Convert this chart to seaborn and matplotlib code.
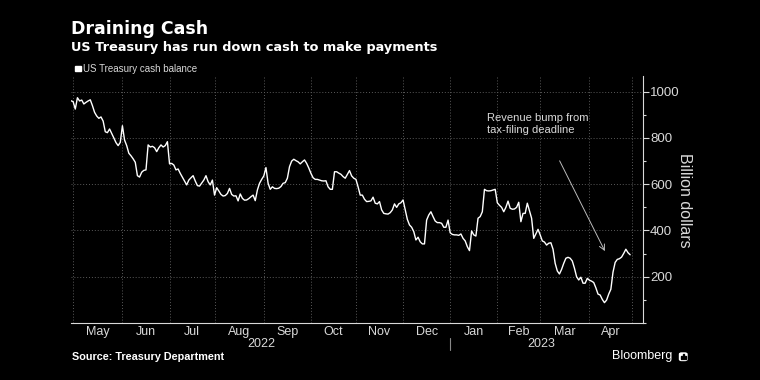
import numpy as np
import pandas as pd
import seaborn as sns
import matplotlib.pyplot as plt
import matplotlib.transforms as mtransforms
from matplotlib.patches import Rectangle, FancyBboxPatch
from matplotlib.ticker import FixedLocator, MultipleLocator, NullFormatter

# daily (weekday) Treasury cash balance, billion dollars
start, end = "2022-04-28", "2023-04-28"
cash = [961, 957, 925, 974, 960, 964, 947, 954, 960, 965,
        940, 911, 895, 885, 891, 873, 827, 823, 839, 820,
        800, 780, 767, 781, 853, 791, 767, 734, 723, 710,
        695, 637, 631, 652, 660, 662, 770, 761, 764, 758,
        741, 758, 770, 761, 767, 784, 688, 690, 683, 662,
        666, 647, 630, 612, 597, 618, 628, 637, 614, 594,
        592, 605, 618, 637, 611, 597, 618, 553, 585, 571,
        556, 549, 551, 560, 582, 556, 549, 550, 528, 558,
        539, 531, 532, 538, 546, 553, 529, 575, 604, 621,
        636, 672, 604, 578, 589, 582, 581, 583, 590, 604,
        607, 626, 676, 700, 708, 702, 697, 688, 697, 705,
        690, 670, 647, 628, 621, 621, 618, 615, 614, 615,
        589, 578, 578, 654, 654, 648, 643, 633, 626, 643,
        659, 636, 626, 621, 589, 553, 553, 535, 525, 526,
        528, 544, 518, 515, 525, 489, 474, 472, 471, 477,
        489, 515, 500, 515, 520, 532, 489, 448, 424, 414,
        395, 359, 371, 351, 342, 342, 445, 467, 481, 460,
        441, 434, 434, 431, 414, 414, 445, 390, 383, 381,
        381, 379, 385, 366, 355, 330, 313, 398, 381, 376,
        453, 460, 481, 578, 572, 571, 572, 575, 578, 520,
        509, 500, 481, 500, 527, 496, 492, 493, 500, 522,
        438, 474, 474, 518, 486, 453, 366, 385, 405, 381,
        355, 350, 337, 345, 347, 319, 258, 225, 212, 232,
        258, 280, 284, 280, 268, 237, 200, 186, 198, 172,
        172, 193, 185, 181, 175, 152, 125, 121, 102, 88,
        99, 125, 146, 220, 262, 275, 278, 285, 301, 319,
        304, 295]
months = ["May", "Jun", "Jul", "Aug", "Sep", "Oct", "Nov", "Dec",
          "Jan", "Feb", "Mar", "Apr"]
years = ["2022", "2023"]
yticks = [200, 400, 600, 800, 1000]

dates = pd.bdate_range(start, end)
month_starts = pd.date_range("2022-05-01", "2023-05-01", freq="MS")
origin = np.datetime64("2022-05-02")
# Bloomberg spaces the axis by trading day, not calendar day
df = pd.DataFrame({"day": np.busday_count(origin, dates.values.astype("datetime64[D]")),
                   "cash": cash})
edges = np.busday_count(origin, month_starts.values.astype("datetime64[D]"))
centers = (edges[:-1] + edges[1:]) / 2

sns.set_style("dark", {"axes.facecolor": "black", "figure.facecolor": "black"})
plt.rcParams["font.family"] = ["Liberation Sans Narrow", "Liberation Sans", "DejaVu Sans"]

fg = "#d9d9d9"
grid = "#5a5a5a"
W, H = 760, 380

fig = plt.figure(figsize=(7.6, 3.8), dpi=100)
ax = fig.add_axes([71 / W, 1 - 323 / H, (643 - 71) / W, (323 - 76) / H])

sns.lineplot(data=df, x="day", y="cash", ax=ax, color="white", lw=1.0)

ax.set_xlim(-2, 265)
ax.set_ylim(0, 1068)

# y axis on the right
ax.yaxis.tick_right()
ax.set_yticks(yticks)
ax.yaxis.set_minor_locator(MultipleLocator(100))
ax.tick_params(axis="y", which="major", colors=fg, labelsize=9.5, length=4,
               width=0.8, pad=1)
ax.tick_params(axis="y", which="minor", colors=fg, length=2.5, width=0.8)
ax.set_ylabel("")
ax.set_xlabel("")

# month gridlines and centered labels
ax.xaxis.set_major_locator(FixedLocator(edges))
ax.xaxis.set_major_formatter(NullFormatter())
ax.xaxis.set_minor_locator(FixedLocator(centers))
ax.xaxis.set_minor_formatter(plt.FixedFormatter(months))
ax.tick_params(axis="x", which="major", colors=fg, length=3, width=0.8)
ax.tick_params(axis="x", which="minor", colors=fg, length=0, labelsize=9, pad=2)

ax.grid(True, which="major", color=grid, linestyle=(0, (1, 2)), linewidth=0.7)
for side in ["left", "top"]:
    ax.spines[side].set_visible(False)
for side in ["right", "bottom"]:
    ax.spines[side].set_visible(True)
    ax.spines[side].set_color(fg)
    ax.spines[side].set_linewidth(0.8)

# year labels under the months
trans = mtransforms.blended_transform_factory(ax.transData, ax.transAxes)
jan = edges[months.index("Jan")]
ax.text((edges[0] + jan) / 2, -0.085, years[0], transform=trans, ha="center",
        va="center", color=fg, fontsize=9)
ax.text((jan + edges[-1]) / 2, -0.085, years[1], transform=trans, ha="center",
        va="center", color=fg, fontsize=9)
ax.plot([jan, jan], [-0.06, -0.11], transform=trans, color="#888888", lw=0.8,
        clip_on=False)

# annotation
ax.text(192.3, 860, "Revenue bump from\ntax-filing deadline", color=fg,
        fontsize=8, ha="left", va="center", linespacing=1.3)
ax.annotate("", xy=(247.8, 300), xytext=(225.5, 712),
            arrowprops=dict(arrowstyle="->", color="#bbbbbb", lw=0.7))

# titles and notes
fig.text(71 / W, 1 - 29 / H, "Draining Cash", color="white", fontsize=12.5,
         fontweight="bold", family="DejaVu Sans", va="center")
fig.text(71 / W, 1 - 47 / H, "US Treasury has run down cash to make payments",
         color="white", fontsize=9.3, fontweight="bold", family="DejaVu Sans",
         va="center")
fig.patches.append(Rectangle((75 / W, 1 - 71 / H), 5.5 / W, 5.5 / H,
                             transform=fig.transFigure, color="white"))
fig.text(83 / W, 1 - 69 / H, "US Treasury cash balance", color=fg,
         fontsize=7, va="center")
fig.text(684 / W, 1 - 200 / H, "Billion dollars", color=fg, fontsize=11.5,
         rotation=270, ha="center", va="center")
fig.text(72 / W, 1 - 357 / H, "Source: Treasury Department", color="white",
         fontsize=7.8, fontweight="bold", va="center")
fig.text(612 / W, 1 - 356.5 / H, "Bloomberg", color="white", fontsize=9,
         va="center")
# small logo box next to the wordmark
fig.patches.append(FancyBboxPatch((679.5 / W, 1 - 360.5 / H), 7.5 / W, 7.5 / H,
                                  boxstyle="round,pad=0,rounding_size=0.003",
                                  transform=fig.transFigure, color="white"))
for bx, bh in [(681.3, 3), (683, 4.5), (684.7, 2.5)]:
    fig.patches.append(Rectangle((bx / W, 1 - 358.5 / H), 1.1 / W, bh / H,
                                 transform=fig.transFigure, color="black"))

fig.savefig("out.png", dpi=100, facecolor="black")
